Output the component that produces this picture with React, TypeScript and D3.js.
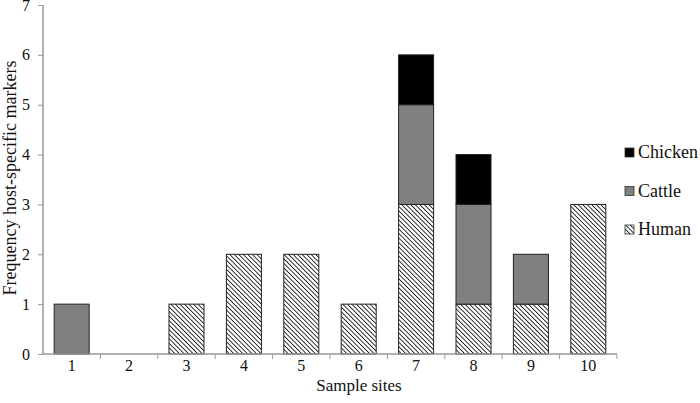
import React, { useEffect, useRef } from 'react'
import * as d3 from 'd3'

const sites = ['1', '2', '3', '4', '5', '6', '7', '8', '9', '10']
const human = [0, 0, 1, 2, 2, 1, 3, 1, 1, 3]
const cattle = [1, 0, 0, 0, 0, 0, 2, 2, 1, 0]
const chicken = [0, 0, 0, 0, 0, 0, 1, 1, 0, 0]
const seriesNames = ['Human', 'Cattle', 'Chicken']
const yTicks = [0, 1, 2, 3, 4, 5, 6, 7]

const width = 700
const height = 403
const margin = { top: 5, right: 83, bottom: 49, left: 43 }
const font = "'Liberation Serif', 'Times New Roman', Times, serif"

export default function App() {
  const ref = useRef<SVGSVGElement>(null)

  useEffect(() => {
    const svg = d3.select(ref.current)
    svg.selectAll('*').remove()

    const innerWidth = width - margin.left - margin.right
    const innerHeight = height - margin.top - margin.bottom

    const defs = svg.append('defs')
    const pat = defs.append('pattern')
      .attr('id', 'hatch')
      .attr('patternUnits', 'userSpaceOnUse')
      .attr('width', 3.2)
      .attr('height', 3.2)
      .attr('patternTransform', 'rotate(-45)')
    pat.append('rect').attr('width', 3.2).attr('height', 3.2).attr('fill', '#fff')
    pat.append('line')
      .attr('x1', 0).attr('y1', 0).attr('x2', 0).attr('y2', 3.2)
      .attr('stroke', '#111').attr('stroke-width', 1.7)

    const fills: Record<string, string> = {
      Human: 'url(#hatch)',
      Cattle: '#808080',
      Chicken: '#000'
    }

    const x = d3.scaleBand().domain(sites).range([0, innerWidth]).paddingInner(0.39).paddingOuter(0.195)
    const xb = d3.scaleBand().domain(sites).range([0, innerWidth])
    const y = d3.scaleLinear().domain([0, 7]).range([innerHeight, 0])

    const g = svg.append('g').attr('transform', `translate(${margin.left},${margin.top})`)

    const table = sites.map((s, i) => ({ site: s, Human: human[i], Cattle: cattle[i], Chicken: chicken[i] }))
    const stacked = d3.stack<any>().keys(seriesNames)(table)

    stacked.forEach(layer => {
      g.append('g')
        .selectAll('rect')
        .data(layer.filter(d => d[1] > d[0]))
        .join('rect')
        .attr('x', d => x(d.data.site)!)
        .attr('width', x.bandwidth())
        .attr('y', d => y(d[1]))
        .attr('height', d => y(d[0]) - y(d[1]))
        .attr('fill', fills[layer.key])
        .attr('stroke', '#222')
        .attr('stroke-width', 1)
    })

    // y axis
    const yAxis = g.append('g')
      .call(d3.axisLeft(y).tickValues(yTicks).tickSize(5).tickFormat(d3.format('d')))
    yAxis.select('.domain').attr('stroke', '#999').attr('stroke-width', 1.5).attr('d', `M0,0V${innerHeight}`)
    yAxis.selectAll('.tick line').attr('stroke', '#999')
    yAxis.selectAll('.tick text')
      .attr('font-family', font).attr('font-size', 16).attr('fill', '#111').attr('x', -13)

    // x axis
    const xAxis = g.append('g').attr('transform', `translate(0,${innerHeight})`)
    xAxis.append('line')
      .attr('x1', 0).attr('x2', innerWidth).attr('y1', 0).attr('y2', 0)
      .attr('stroke', '#999').attr('stroke-width', 1.5)
    xAxis.selectAll('.btick')
      .data(sites)
      .join('line')
      .attr('class', 'btick')
      .attr('x1', d => xb(d)! + xb.bandwidth())
      .attr('x2', d => xb(d)! + xb.bandwidth())
      .attr('y1', 0).attr('y2', 5)
      .attr('stroke', '#999')
    xAxis.selectAll('.lbl')
      .data(sites)
      .join('text')
      .attr('class', 'lbl')
      .attr('x', d => xb(d)! + xb.bandwidth() / 2)
      .attr('y', 17)
      .attr('text-anchor', 'middle')
      .attr('font-family', font).attr('font-size', 16).attr('fill', '#111')
      .text(d => d)

    svg.append('text')
      .attr('x', 359)
      .attr('y', 391)
      .attr('text-anchor', 'middle')
      .attr('font-family', font).attr('font-size', 17).attr('fill', '#111')
      .text('Sample sites')

    svg.append('text')
      .attr('transform', `translate(16,178) rotate(-90)`)
      .attr('text-anchor', 'middle')
      .attr('font-family', font).attr('font-size', 18).attr('fill', '#111')
      .text('Frequency host-specific markers')

    // legend
    const legendItems = ['Chicken', 'Cattle', 'Human']
    const legend = svg.append('g').attr('transform', 'translate(625,148)')
    legendItems.forEach((name, i) => {
      const li = legend.append('g').attr('transform', `translate(0,${i * 38.5})`)
      li.append('rect').attr('width', 9).attr('height', 9)
        .attr('fill', fills[name]).attr('stroke', '#333').attr('stroke-width', 0.8)
      li.append('text').attr('x', 13).attr('y', 10)
        .attr('font-family', font).attr('font-size', 18).attr('fill', '#111')
        .text(name)
    })
  }, [])

  return (
    <svg ref={ref} width={width} height={height} style={{ position: 'absolute', left: 0, top: 0, background: '#fff' }}></svg>
  )
}
